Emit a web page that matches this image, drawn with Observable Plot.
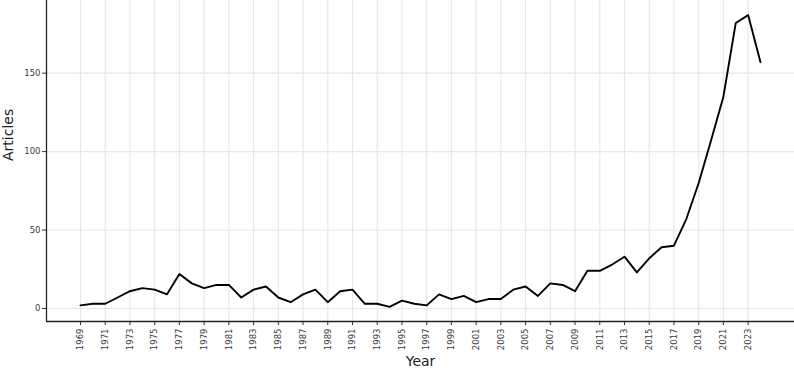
<!DOCTYPE html>
<html>
<head>
<meta charset="utf-8">
<script src="https://cdn.jsdelivr.net/npm/d3@7"></script>
<script src="https://cdn.jsdelivr.net/npm/@observablehq/plot@0.6"></script>
<style>
  html, body { margin: 0; padding: 0; background: #ffffff; }
  #chart svg { display: block; }
</style>
</head>
<body>
<div id="chart"></div>
<script>
const years = [1969,1970,1971,1972,1973,1974,1975,1976,1977,1978,1979,1980,1981,1982,1983,1984,1985,1986,1987,1988,1989,1990,1991,1992,1993,1994,1995,1996,1997,1998,1999,2000,2001,2002,2003,2004,2005,2006,2007,2008,2009,2010,2011,2012,2013,2014,2015,2016,2017,2018,2019,2020,2021,2022,2023,2024];
const articles = [2,3,3,7,11,13,12,9,22,16,13,15,15,7,12,14,7,4,9,12,4,11,12,3,3,1,5,3,2,9,6,8,4,6,6,12,14,8,16,15,11,24,24,28,33,23,32,39,40,57,80,107,135,182,187,157];
const xTickLabels = [1969,1971,1973,1975,1977,1979,1981,1983,1985,1987,1989,1991,1993,1995,1997,1999,2001,2003,2005,2007,2009,2011,2013,2015,2017,2019,2021,2023];
const yTickLabels = [0,50,100,150];
const xTitle = "Year";
const yTitle = "Articles";

const data = years.map((y, i) => ({year: y, n: articles[i]}));

// ggplot-style 5% expansion of the data range
function expand([a, b]) { const d = (b - a) * 0.05; return [a - d, b + d]; }
const xDom = expand(d3.extent(years));
const yDom = expand(d3.extent(articles));

const font = "DejaVu Sans, Verdana, sans-serif";

const chart = Plot.plot({
  width: 794,
  height: 368,
  marginLeft: 46,
  marginRight: 0,
  marginTop: 0,
  marginBottom: 47,
  style: {fontFamily: font, background: "#ffffff"},
  x: {type: "linear", domain: xDom},
  y: {domain: yDom},
  marks: [
    Plot.gridX(xTickLabels, {stroke: "#e6e6e6", strokeOpacity: 1, strokeWidth: 1.1}),
    Plot.gridY(yTickLabels, {stroke: "#e6e6e6", strokeOpacity: 1, strokeWidth: 1.1}),
    Plot.axisX(xTickLabels, {
      tickRotate: -90, tickSize: 4, tickPadding: 3, fontSize: 8.5,
      tickFormat: d => String(d), fill: "#3a3a3a", stroke: "#333333", label: null
    }),
    Plot.axisY(yTickLabels, {
      tickSize: 4, tickPadding: 2, fontSize: 8.5,
      tickFormat: d => String(d), fill: "#3a3a3a", stroke: "#333333", label: null
    }),
    Plot.ruleX([xDom[0]], {stroke: "#222222", strokeWidth: 1.3}),
    Plot.ruleY([yDom[0]], {stroke: "#222222", strokeWidth: 1.3}),
    Plot.line(data, {x: "year", y: "n", stroke: "#000000", strokeWidth: 1.9}),
    Plot.text([xTitle], {frameAnchor: "bottom", dy: 40, fontSize: 14, fill: "#222222", lineAnchor: "middle"}),
    Plot.text([yTitle], {frameAnchor: "left", dx: -38, rotate: -90, fontSize: 14, fill: "#222222", lineAnchor: "middle"})
  ]
});
document.getElementById("chart").appendChild(chart);
</script>
</body>
</html>
